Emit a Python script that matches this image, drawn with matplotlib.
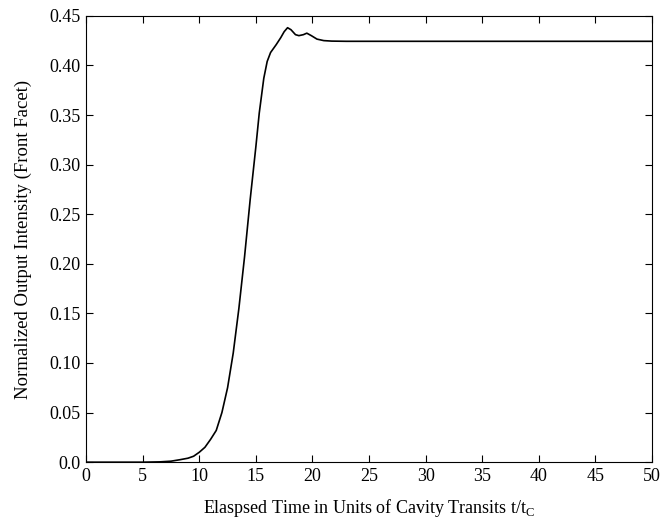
import matplotlib
matplotlib.use('Agg')
import matplotlib.pyplot as plt

plt.rcParams['font.family'] = 'Liberation Serif'
plt.rcParams['mathtext.fontset'] = 'custom'
plt.rcParams['mathtext.rm'] = 'Liberation Serif'

# values
t = [0, 5, 6.5, 7.5, 8.3, 9.0, 9.5, 10.0, 10.5, 11.0, 11.5, 12.0, 12.5, 13.0,
     13.5, 14.0, 14.5, 15.0, 15.3, 15.7, 16.0, 16.3, 16.8, 17.2, 17.5, 17.8,
     18.1, 18.5, 18.8, 19.2, 19.5, 19.9, 20.4, 21.0, 21.7, 23.0, 50.0]
intensity = [0, 0, 0.0003, 0.001, 0.0025, 0.004, 0.006, 0.010, 0.015, 0.023,
             0.032, 0.050, 0.075, 0.110, 0.155, 0.207, 0.265, 0.318, 0.352,
             0.387, 0.404, 0.413, 0.421, 0.428, 0.434, 0.438, 0.436, 0.431,
             0.430, 0.431, 0.4325, 0.430, 0.4265, 0.425, 0.4245, 0.4243, 0.4243]

xticks = [0, 5, 10, 15, 20, 25, 30, 35, 40, 45, 50]
yticks = [0.0, 0.05, 0.10, 0.15, 0.20, 0.25, 0.30, 0.35, 0.40, 0.45]
ylabels = ['0.0', '0.05', '0.10', '0.15', '0.20', '0.25', '0.30', '0.35', '0.40', '0.45']

fig = plt.figure(figsize=(6.62, 5.27), dpi=100)
ax = fig.add_axes([0.130, 0.123, 0.855, 0.847])
ax.plot(t, intensity, color='black', linewidth=1.2)

ax.set_xlim(0, 50)
ax.set_ylim(0, 0.45)
ax.set_xticks(xticks)
ax.set_yticks(yticks)
ax.set_yticklabels(ylabels)
ax.tick_params(direction='in', top=True, right=True, labelsize=13, length=5, pad=4)

ax.set_xlabel(r'Elaspsed Time in Units of Cavity Transits t/t$_\mathrm{C}$', fontsize=13, labelpad=9)
ax.set_ylabel('Normalized Output Intensity (Front Facet)', fontsize=13.5, labelpad=12)

plt.savefig('out.png', dpi=100)
